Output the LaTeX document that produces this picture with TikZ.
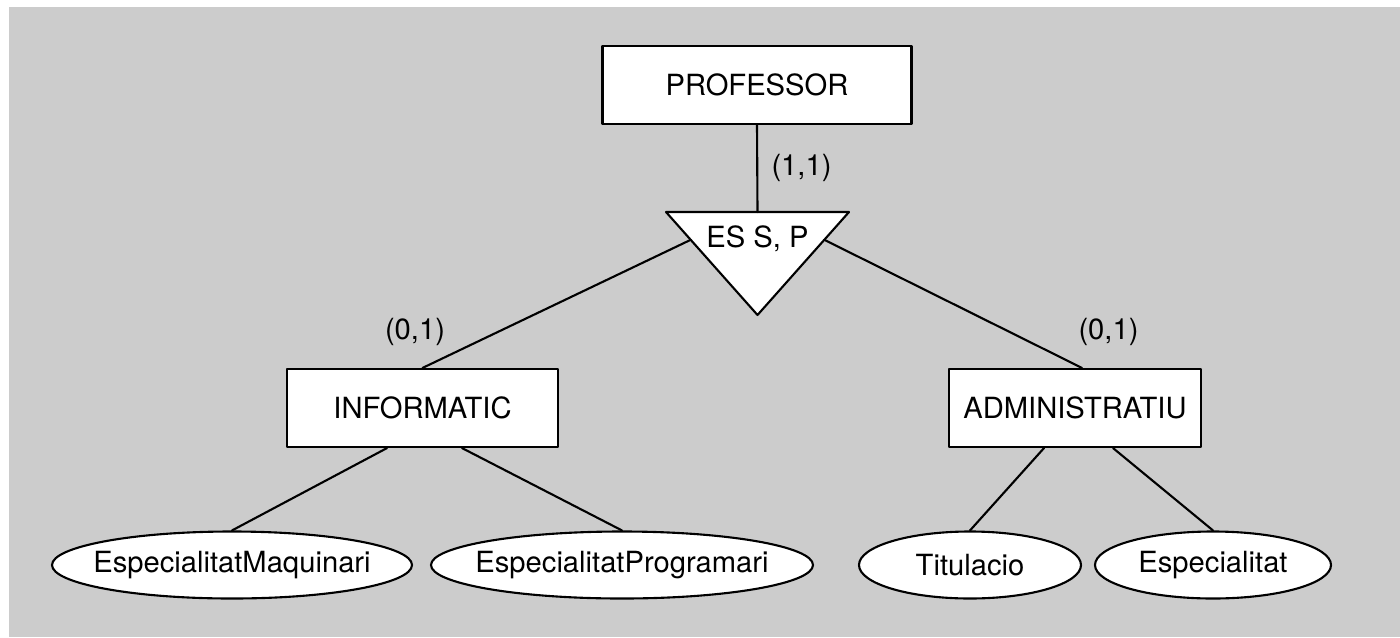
\documentclass[tikz,border=0pt]{standalone}
\usepackage{fontspec}
\setmainfont{TeX Gyre Heros}
\usepackage{xcolor}
\usetikzlibrary{calc,positioning,shapes.geometric}
\definecolor{bggray}{HTML}{CCCCCC}
\tikzset{
  ent/.style={rectangle, draw, fill=white, minimum height=0.78cm, inner sep=0pt},
  atr/.style={ellipse, draw, fill=white, minimum height=0.67cm, inner sep=0pt},
  card/.style={inner sep=0pt},
  every picture/.style={line cap=round, line join=round}
}

\begin{document}
\begin{tikzpicture}[line width=0.6pt, font=\fontsize{8.3pt}{10pt}\selectfont]
  \useasboundingbox (0,0) rectangle (14,6.37);
  \fill[bggray] (0.09,0) rectangle (14,6.30);
  % entities
  \node[ent, minimum width=3.09cm] (prof) at (7.57,5.52) {PROFESSOR};
  \node[ent, minimum width=2.71cm] (inf) at (4.225,2.29) {INFORMATIC};
  \node[ent, minimum width=2.52cm] (adm) at (10.75,2.29) {ADMINISTRATIU};
  % specialization triangle
  \coordinate (isaL) at (6.66,4.25);
  \coordinate (isaR) at (8.49,4.25);
  \coordinate (isaB) at (7.575,3.22);
  \coordinate (isaT) at ($(isaL)!0.5!(isaR)$);
  \coordinate (isaSL) at ($(isaL)!0.27!(isaB)$);
  \coordinate (isaSR) at ($(isaR)!0.27!(isaB)$);
  \draw[fill=white] (isaL)--(isaR)--(isaB)--cycle;
  \node[anchor=base] (isa) at (7.575,3.90) {ES S, P};
  % attributes
  \node[atr, minimum width=3.60cm, label={[name=maqt]center:EspecialitatMaquinari}] (maq) at (2.32,0.72) {};
  \node[atr, minimum width=3.82cm, label={[name=progt]center:EspecialitatProgramari}] (prog) at (6.22,0.72) {};
  \node[atr, minimum width=2.22cm, label={[name=titt]center:Titulacio}] (tit) at (9.70,0.72) {};
  \node[atr, minimum width=2.36cm, label={[name=espt]center:Especialitat}] (esp) at (12.13,0.72) {};
  % cardinalities
  \node[card] (c11) at (8.015,4.69) {(1,1)};
  \node[card] (c01a) at (4.15,3.05) {(0,1)};
  \node[card] (c01b) at (11.085,3.05) {(0,1)};
  % connectors
  \draw (prof.south)--(isaT);
  \draw (isaSL)--(inf.north);
  \draw (isaSR)--([xshift=0.07cm]adm.north);
  \draw ([xshift=-0.355cm]inf.south)--(maq.north);
  \draw ([xshift=0.395cm]inf.south)--(prog.north);
  \draw ([xshift=-0.31cm]adm.south)--(tit.north);
  \draw ([xshift=0.38cm]adm.south)--(esp.north);
\end{tikzpicture}
\end{document}
